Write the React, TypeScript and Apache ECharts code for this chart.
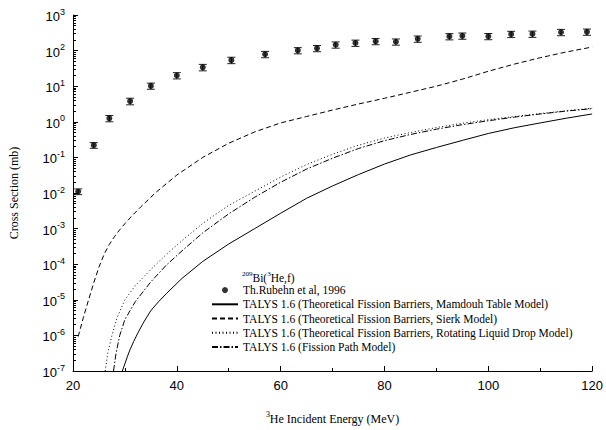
import React, { useEffect, useRef } from "react";
import * as echarts from "echarts";

const SANS = "'Liberation Sans', Arial, sans-serif";
const SERIF = "'Liberation Serif', 'Times New Roman', serif";

// Experimental data: Th. Rubehn et al, 1996
const expEnergy = [21, 24, 27, 31, 35, 40, 45, 50.5, 57, 63.3, 67, 70.6, 74.4, 78.3, 82.2, 86.4, 92.5, 95, 100, 104.4, 108.5, 114, 119];
const expSigma = [0.011, 0.22, 1.25, 3.8, 10.2, 20, 34, 54, 79, 101, 116, 146, 164, 182, 177, 214, 250, 260, 252, 290, 294, 328, 336];
const expErr = [0.002, 0.04, 0.25, 0.8, 2, 4, 7, 11, 16, 20, 23, 29, 33, 36, 35, 43, 50, 52, 50, 58, 59, 66, 67];

// TALYS 1.6 Mamdouh Table Model (solid)
const mamdouhE = [29.5, 30, 30.5, 31, 31.7, 32.4, 33.5, 35, 36.5, 38, 41, 45, 50, 55, 60, 65, 70, 75, 80, 85, 90, 95, 100, 105, 110, 115, 120];
const mamdouhS = [1e-7, 1.6e-7, 2.6e-7, 4.0e-7, 6.8e-7, 1.1e-6, 2.2e-6, 5.0e-6, 8.9e-6, 1.5e-5, 4.0e-5, 1.2e-4, 3.7e-4, 1.0e-3, 2.7e-3, 7.1e-3, 1.58e-2, 3.3e-2, 6.5e-2, 0.117, 0.19, 0.30, 0.47, 0.68, 0.93, 1.26, 1.66];

// TALYS 1.6 Sierk Model (dashed)
const sierkE = [21, 22, 23, 24, 25, 26, 27, 28, 29, 30, 31.5, 33, 36, 40, 45, 50, 55, 60, 65, 70, 75, 80, 85, 90, 95, 100, 105, 110, 115, 120];
const sierkS = [9.3e-7, 3.2e-6, 1.0e-5, 3.0e-5, 8.3e-5, 1.9e-4, 3.6e-4, 6.0e-4, 9.3e-4, 1.38e-3, 2.4e-3, 4.0e-3, 1.05e-2, 3.2e-2, 0.1, 0.25, 0.52, 0.93, 1.41, 2.14, 3.16, 4.57, 6.76, 10.0, 15.8, 26.3, 41.7, 63.1, 91.2, 126];

// TALYS 1.6 Rotating Liquid Drop Model (dotted)
const rldmE = [26.2, 26.7, 27.5, 28.5, 30, 32, 35, 38, 41.3, 45, 50, 55, 60, 65, 70, 75, 80, 85, 90, 95, 100, 105, 110, 115, 120];
const rldmS = [1e-7, 3.2e-7, 1e-6, 3.2e-6, 1.0e-5, 2.5e-5, 7.1e-5, 1.9e-4, 5.0e-4, 1.4e-3, 4.5e-3, 1.12e-2, 2.8e-2, 6.3e-2, 0.123, 0.22, 0.35, 0.5, 0.69, 0.91, 1.15, 1.41, 1.7, 2.04, 2.4];

// TALYS 1.6 Fission Path Model (dash-dot)
const fpathE = [27.8, 28.3, 29, 30, 32, 35, 38, 41.3, 45, 50, 55, 60, 65, 70, 75, 80, 85, 90, 95, 100, 105, 110, 115, 120];
const fpathS = [1e-7, 3.2e-7, 1e-6, 2.8e-6, 8.9e-6, 3.2e-5, 9.5e-5, 2.6e-4, 7.6e-4, 2.6e-3, 7.6e-3, 2.0e-2, 4.7e-2, 9.5e-2, 0.178, 0.295, 0.44, 0.62, 0.83, 1.07, 1.35, 1.66, 2.0, 2.34];

const seriesNames = [
  "Th.Rubehn et al, 1996",
  "TALYS 1.6 (Theoretical Fission Barriers, Mamdouh Table Model)",
  "TALYS 1.6 (Theoretical Fission Barriers, Sierk Model)",
  "TALYS 1.6 (Theoretical Fission Barriers, Rotating Liquid Drop Model)",
  "TALYS 1.6 (Fission Path Model)",
];

const xTicks = { min: 20, max: 120, interval: 20 };
const yRange = { min: 1e-7, max: 1e3 };

const zip = (a: number[], b: number[]) => a.map((v, i) => [v, b[i]]);

export default function App() {
  const ref = useRef<HTMLDivElement>(null);
  useEffect(() => {
    if (!ref.current) return;
    const chart = echarts.init(ref.current, undefined, { renderer: "svg" });
    const lineBase = (name: string, e: number[], s: number[], type: any) => ({
      name,
      type: "line",
      data: zip(e, s),
      symbol: "none",
      smooth: false,
      lineStyle: { color: "#000", width: 1, type },
      itemStyle: { color: "#000" },
      z: 3,
    });
    const option: any = {
      animation: false,
      backgroundColor: "#fff",
      grid: { left: 72, right: 11, top: 15, bottom: 52, containLabel: false },
      xAxis: {
        type: "value",
        min: xTicks.min,
        max: xTicks.max,
        interval: xTicks.interval,
        name: "{s|3}{n|He Incident Energy (MeV)}",
        nameLocation: "middle",
        nameGap: 39,
        nameTextStyle: {
          rich: {
            s: { fontFamily: SERIF, fontSize: 8, color: "#000", verticalAlign: "top", lineHeight: 9 },
            n: { fontFamily: SERIF, fontSize: 12, color: "#000", verticalAlign: "bottom", lineHeight: 15 },
          },
        },
        axisLine: { show: true, onZero: false, lineStyle: { color: "#000", width: 1 } },
        axisTick: { show: true, inside: true, length: 5, lineStyle: { color: "#000" } },
        minorTick: { show: true, splitNumber: 2, length: 3, lineStyle: { color: "#000" } },
        splitLine: { show: false },
        axisLabel: { fontFamily: SANS, fontSize: 13, color: "#000", margin: 8 },
      },
      yAxis: {
        type: "log",
        logBase: 10,
        min: yRange.min,
        max: yRange.max,
        interval: 1,
        name: "Cross Section (mb)",
        nameLocation: "middle",
        nameGap: 53,
        nameTextStyle: { fontFamily: SERIF, fontSize: 12, color: "#000" },
        axisLine: { show: true, onZero: false, lineStyle: { color: "#000", width: 1 } },
        axisTick: { show: true, inside: true, length: 5, lineStyle: { color: "#000" } },
        minorTick: { show: true, splitNumber: 9, length: 3, lineStyle: { color: "#000" } },
        splitLine: { show: false },
        axisLabel: {
          margin: 8,
          formatter: (v: number) => {
            const e = Math.round(Math.log10(v));
            return `{b|10}{s|${e}}`;
          },
          rich: {
            b: { fontFamily: SANS, fontSize: 13, color: "#000", verticalAlign: "bottom", lineHeight: 16 },
            s: { fontFamily: SANS, fontSize: 9, color: "#000", verticalAlign: "top", lineHeight: 10 },
          },
        },
      },
      legend: {
        orient: "vertical",
        left: 211,
        top: 283,
        itemWidth: 26,
        itemHeight: 6,
        itemGap: 0,
        padding: 0,
        data: seriesNames.map((n, i) =>
          i === 0 ? { name: n } : { name: n, itemStyle: { opacity: 0 } }
        ),
        textStyle: { fontFamily: SERIF, fontSize: 11.5, color: "#000", lineHeight: 14.2 },
      },
      graphic: [
        {
          type: "text",
          left: 242,
          top: 270,
          style: {
            text: "{s|209}{n|Bi(}{s|3}{n|He,f)}",
            rich: {
              s: { fontFamily: SERIF, fontSize: 7, fill: "#000", verticalAlign: "top", lineHeight: 8 },
              n: { fontFamily: SERIF, fontSize: 11.5, fill: "#000", verticalAlign: "bottom", lineHeight: 14 },
            },
          },
        },
      ],
      series: [
        {
          name: seriesNames[0],
          type: "scatter",
          data: zip(expEnergy, expSigma),
          symbol: "circle",
          symbolSize: 6,
          itemStyle: { color: "#000" },
          z: 5,
        },
        {
          name: "errorbars",
          type: "custom",
          data: expEnergy.map((e, i) => [e, expSigma[i] - expErr[i], expSigma[i] + expErr[i]]),
          encode: { x: 0, y: [1, 2] },
          z: 4,
          renderItem: (params: any, api: any) => {
            const x = api.value(0);
            const lo = api.coord([x, api.value(1)]);
            const hi = api.coord([x, api.value(2)]);
            const hw = 4;
            const st = { stroke: "#222", lineWidth: 1 };
            return {
              type: "group",
              children: [
                { type: "line", shape: { x1: lo[0], y1: lo[1], x2: hi[0], y2: hi[1] }, style: st },
                { type: "line", shape: { x1: lo[0] - hw, y1: lo[1], x2: lo[0] + hw, y2: lo[1] }, style: st },
                { type: "line", shape: { x1: hi[0] - hw, y1: hi[1], x2: hi[0] + hw, y2: hi[1] }, style: st },
              ],
            };
          },
        },
        lineBase(seriesNames[1], mamdouhE, mamdouhS, "solid"),
        lineBase(seriesNames[2], sierkE, sierkS, [5, 3]),
        lineBase(seriesNames[3], rldmE, rldmS, [1, 2.5]),
        lineBase(seriesNames[4], fpathE, fpathS, [6, 2, 1.5, 2]),
      ],
    };
    chart.setOption(option);
    return () => chart.dispose();
  }, []);
  return (
    <div
      ref={ref}
      style={{ position: "absolute", left: 0, top: 0, width: 606, height: 430, background: "#fff" }}
    />
  );
}
